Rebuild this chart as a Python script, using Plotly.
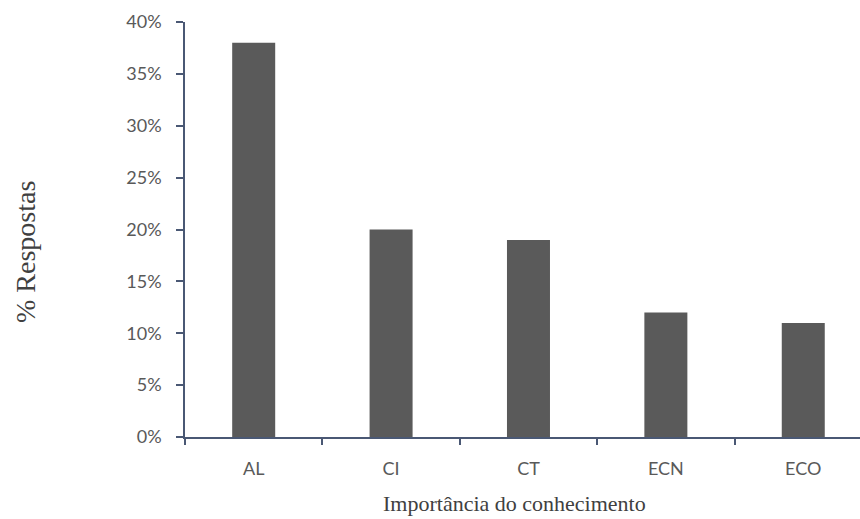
import plotly.graph_objects as go

# Share of responses by type of knowledge
categorias = ["AL", "CI", "CT", "ECN", "ECO"]
respostas = [0.38, 0.20, 0.19, 0.12, 0.11]
ticks_y = [0, 0.05, 0.10, 0.15, 0.20, 0.25, 0.30, 0.35, 0.40]
rotulos_y = ["0%", "5%", "10%", "15%", "20%", "25%", "30%", "35%", "40%"]

eixo_cor = "#4A5874"
texto_cor = "#595959"

fig = go.Figure(
    go.Bar(
        x=categorias,
        y=respostas,
        marker=dict(color="#5A5A5A", line=dict(width=0)),
        hovertemplate="%{x}: %{y:.0%}<extra></extra>",
    )
)

fig.update_layout(
    width=860,
    height=519,
    margin=dict(l=185, r=0, t=22, b=82),
    paper_bgcolor="white",
    plot_bgcolor="white",
    bargap=0.687,
    showlegend=False,
    font=dict(family="Lato, Open Sans, sans-serif", size=18, color=texto_cor),
)

fig.update_xaxes(
    type="category",
    range=[-0.5, 4.413],
    showline=True,
    linecolor=eixo_cor,
    linewidth=1.5,
    ticks="outside",
    tickson="boundaries",
    ticklen=6,
    tickwidth=1.5,
    tickcolor=eixo_cor,
    ticklabelstandoff=15,
    showgrid=False,
    zeroline=False,
    tickfont=dict(size=18, color=texto_cor),
)

fig.update_yaxes(
    range=[0, 0.40],
    tickvals=ticks_y,
    ticktext=rotulos_y,
    showline=True,
    linecolor=eixo_cor,
    linewidth=1.5,
    ticks="outside",
    ticklen=7,
    tickwidth=1.5,
    tickcolor=eixo_cor,
    ticklabelstandoff=11,
    showgrid=False,
    zeroline=False,
    tickfont=dict(size=18, color=texto_cor),
)

# Axis titles in a serif face
fig.add_annotation(
    text="Importância do conhecimento",
    xref="paper", yref="paper",
    x=(514 - 185) / 675, y=-(504 - 437) / 415,
    xanchor="center", yanchor="middle",
    showarrow=False,
    font=dict(family="Liberation Serif, Times New Roman, serif", size=22, color="#404040"),
)
fig.add_annotation(
    text="% Respostas",
    xref="paper", yref="paper",
    x=-(185 - 25) / 675, y=(437 - 252) / 415,
    xanchor="center", yanchor="middle",
    textangle=-90,
    showarrow=False,
    font=dict(family="Liberation Serif, Times New Roman, serif", size=28, color="#404040"),
)

fig.write_html("out.html")
